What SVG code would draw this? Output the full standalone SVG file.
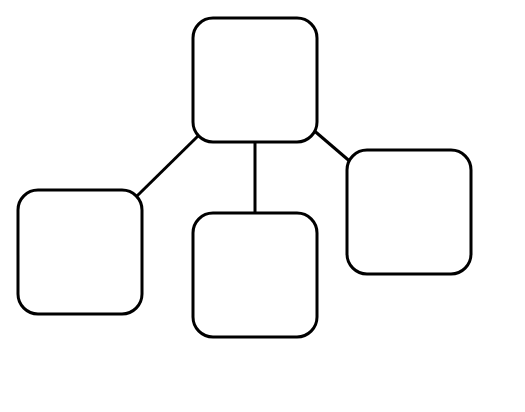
<svg xmlns="http://www.w3.org/2000/svg" width="525" height="412" viewBox="0 0 525 412">
<style>
.node{fill:#fff;stroke:#000;stroke-width:3}
.edge{stroke:#000;stroke-width:3;fill:none}
</style>
<rect width="525" height="412" fill="#fff"/>
<g id="connectors">
<line class="edge" x1="255" y1="80" x2="80" y2="252"/>
<line class="edge" x1="255" y1="80" x2="255" y2="275"/>
<line class="edge" x1="255" y1="80" x2="409" y2="212"/>
</g>
<g id="node-top"><rect class="node" x="193" y="18" width="124" height="124" rx="20"/></g>
<g id="node-left"><rect class="node" x="18" y="190" width="124" height="124" rx="20"/></g>
<g id="node-middle"><rect class="node" x="193" y="213" width="124" height="124" rx="20"/></g>
<g id="node-right"><rect class="node" x="347" y="150" width="124" height="124" rx="20"/></g>
</svg>
